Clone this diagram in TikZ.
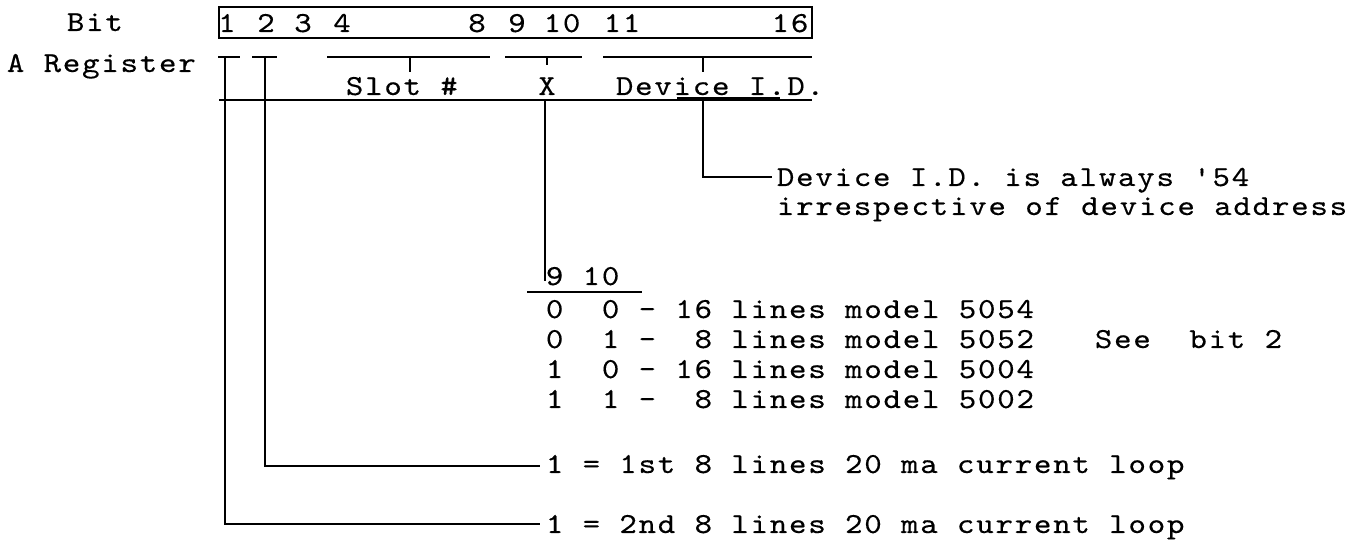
\documentclass[tikz,border=0pt]{standalone}
\usepackage{fontspec}
\setmonofont{lmmono10-regular.otf}[FakeStretch=1.15,FakeBold=0.3,LetterSpace=6]
\newcommand\typew{\ttfamily\fontsize{16.5}{20}\selectfont}

\begin{document}
\begin{tikzpicture}[x=0.02cm,y=-0.02cm,line width=1pt,
  txt/.style={inner sep=0pt,anchor=base west,font=\typew},
  num/.style={inner sep=0pt,anchor=base,font=\typew},
  tee/.style={line width=1.1pt}]
\useasboundingbox (0,0) rectangle (1369,543);
% bit numbers
\node[txt] (bit) at (66,31) {Bit};
\draw (219,7) rectangle (812,38);
\foreach \b/\x in {1/227,2/266,3/303,4/342,8/477,9/517,10/562,11/622,16/790}
  \node[num] (b\b) at (\x,32) {\b};
% A register fields
\node[txt] (areg) at (6,72) {A Register};
\node[txt] (slot) at (345,95) {Slot \#};
\node[num] (xfld) at (547,95) {X};
\node[txt] (devid) at (615,95) {Device I.D.};
\draw[tee] (218,57) -- (240,57);
\draw[tee] (252,57) -- (277,57);
\draw[tee] (327,57) -- (490,57) (410,57) -- (410,72);
\draw[tee] (505,57) -- (582,57) (547,57) -- (547,65);
\draw[tee] (603,57) -- (812,57) (703,57) -- (703,72);
\draw (219,100) -- (812,100);
\draw (677,98) -- (780,98);
\coordinate (t1) at (225,57);
\coordinate (t2) at (265,57);
\coordinate (xtop) at (545,100);
\coordinate (dtop) at (703,100);
% notes
\node[txt] (note) at (776,186) {Device I.D. is always '54};
\node[txt] (note2) at (776,215) {irrespective of device address};
\node[txt] (hdr) at (545,285) {9 10};
\draw (527,292) -- (642,292);
\foreach \n/\y/\t in {1/318/{0~~0~-~16 lines model 5054},2/348/{0~~1~-~~8 lines model 5052},
  3/378/{1~~0~-~16 lines model 5004},4/408/{1~~1~-~~8 lines model 5002}}
  \node[txt] (row\n) at (545,\y) {\t};
\node[txt] (seebit) at (1094,348) {See~~bit 2};
\node[txt] (loop1) at (545,473) {1 = 1st 8 lines 20 ma current loop};
\node[txt] (loop2) at (545,533) {1 = 2nd 8 lines 20 ma current loop};
% connectors
\draw[tee] (dtop) |- ([shift={(-2pt,5pt)}]note.base west);
\draw[tee] (xtop) -- ([yshift=2pt]hdr.base west);
\draw[tee] (t2) |- ([shift={(-3pt,4pt)}]loop1.base west);
\draw[tee] (t1) |- ([shift={(-3pt,5pt)}]loop2.base west);
\end{tikzpicture}
\end{document}
